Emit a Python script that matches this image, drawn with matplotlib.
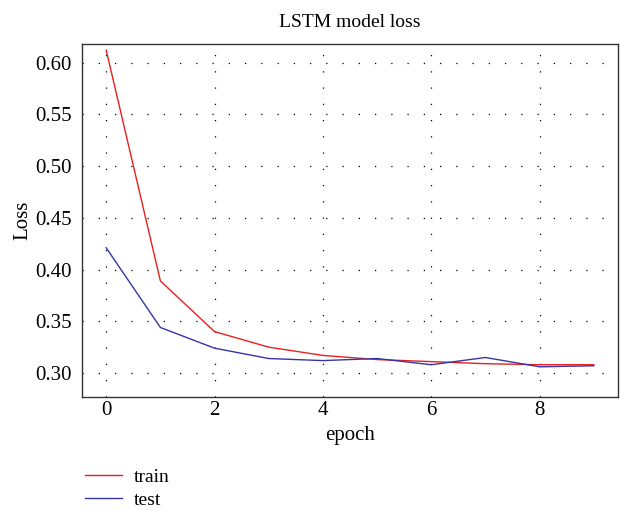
import numpy as np
import matplotlib.pyplot as plt

plt.rcParams['font.family'] = ['Liberation Serif', 'DejaVu Serif']

epochs = list(range(10))
train_loss = [0.612, 0.389, 0.340, 0.325, 0.317, 0.313, 0.311, 0.309, 0.308, 0.308]
test_loss = [0.421, 0.344, 0.324, 0.314, 0.312, 0.314, 0.308, 0.315, 0.306, 0.307]

fig = plt.figure(figsize=(6.2, 5.12), dpi=100)
ax = fig.add_axes([0.132, 0.225, 0.865, 0.689])

ax.plot(epochs, train_loss, color='#e8201c', lw=1.0, label='train')
ax.plot(epochs, test_loss, color='#3535a8', lw=1.0, label='test')

ax.set_xlim(-0.45, 9.45)
ax.set_ylim(0.277, 0.618)
ax.set_xticks([0, 2, 4, 6, 8])
ax.set_yticks([0.30, 0.35, 0.40, 0.45, 0.50, 0.55, 0.60])
ax.yaxis.set_major_formatter(plt.FormatStrFormatter('%.2f'))
ax.tick_params(length=0, labelsize=15)
ax.tick_params(axis='x', pad=3)
ax.tick_params(axis='y', pad=7)
ax.grid(True, color='black', linestyle=(0, (1, 12)), linewidth=0.9)

for s in ax.spines.values():
    s.set_color('#333333')
    s.set_linewidth(1.0)

ax.set_title('LSTM model loss', fontsize=14, pad=12)
ax.set_xlabel('epoch', fontsize=15, labelpad=4)
ax.set_ylabel('Loss', fontsize=15, labelpad=2)

fig.legend(loc='upper left', bbox_to_anchor=(0.125, 0.1), frameon=False,
           fontsize=14, handlelength=1.9, handletextpad=0.6,
           labelspacing=0.25, borderaxespad=0)

fig.savefig('out.png', dpi=100)
